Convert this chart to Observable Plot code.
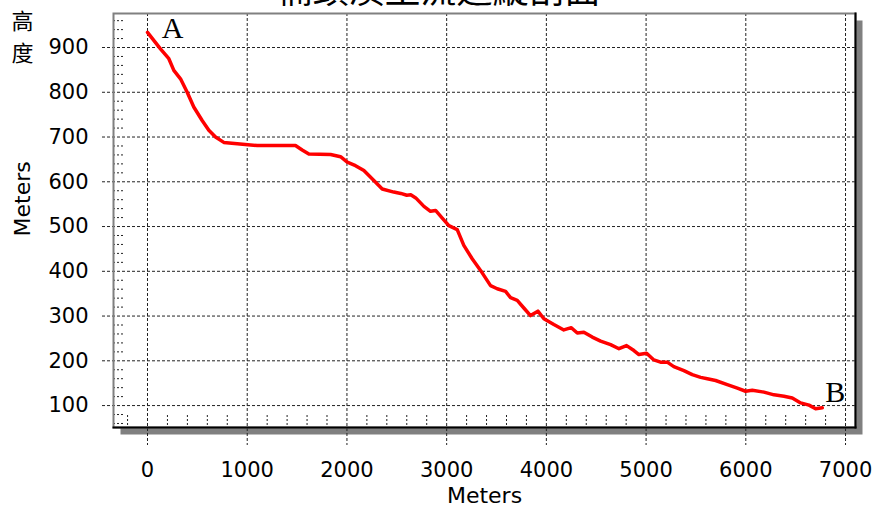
<!DOCTYPE html>
<html><head><meta charset="utf-8">
<script src="https://cdn.jsdelivr.net/npm/d3@7"></script>
<script src="https://cdn.jsdelivr.net/npm/@observablehq/plot@0.6"></script>
<style>body{margin:0;background:#fff}</style>
</head><body><div id="chart"></div>
<script>
const distance = [0,130,214,264,331,398,464,548,615,682,765,900,1100,1484,1551,1618,1836,1936,2003,2086,2170,2270,2354,2470,2540,2600,2640,2690,2772,2838,2889,2956,3022,3106,3172,3256,3340,3440,3507,3591,3641,3708,3774,3841,3915,3975,4075,4175,4250,4310,4376,4460,4544,4644,4728,4804,4878,4928,5005,5078,5145,5212,5278,5379,5463,5547,5614,5697,5814,5915,5998,6065,6182,6283,6383,6466,6550,6634,6700,6767];
const elevation = [934,897,875,849,830,800,767,737,715,700,688,685,681,681,671,662,661,656,644,636,625,603,584,577,574,570,571,564,545,534,536,519,502,493,458,428,402,368,361,355,341,335,318,301,311,294,281,269,274,262,264,253,244,236,227,234,223,214,217,202,197,197,187,178,169,163,160,156,147,139,132,134,130,124,121,117,106,101,93,95];
const xTicks = [0,1000,2000,3000,4000,5000,6000,7000];
const yTicks = [100,200,300,400,500,600,700,800,900];
const xMinor = d3.range(-200, 7000, 200).filter(v => v % 1000 !== 0);
const yMinor = d3.range(60, 976, 20).filter(v => v % 100 !== 0);
const title = "楠頭溪主流道縱剖面";
const axisLabel = "Meters";
const yName = "高\n度";
const startLabel = "A";
const endLabel = "B";

const profile = distance.map((d, i) => ({distance: d, elevation: elevation[i]}));
const first = profile[0], last = profile[profile.length - 1];

const innerW = 877 - 113 - 22, innerH = 513 - 13 - 86;

const chart = Plot.plot({
  width: 877, height: 513,
  marginLeft: 113, marginRight: 22, marginTop: 13, marginBottom: 86,
  x: {domain: [-341, 7100]},
  y: {domain: [51, 976]},
  style: {fontFamily: "'DejaVu Sans', Verdana, sans-serif", background: "white", overflow: "visible"},
  marks: [
    Plot.frame({fill: "#808080", stroke: null, dx: 7, dy: 7}),
    Plot.frame({fill: "white", stroke: null}),
    Plot.tickY(yMinor, {y: d => d, insetRight: innerW - 12, stroke: "#222", strokeDasharray: "2,2"}),
    Plot.tickX(xMinor, {x: d => d, insetTop: innerH - 12, stroke: "#222", strokeDasharray: "2,2"}),
    Plot.tickY(yTicks, {y: d => d, insetLeft: -11, stroke: "#222", strokeDasharray: "3,2"}),
    Plot.tickX(xTicks, {x: d => d, insetBottom: -18, stroke: "#222", strokeDasharray: "3,2"}),
    Plot.frame({stroke: "#808080", strokeWidth: 2}),
    Plot.frame({anchor: "right", stroke: "black", strokeWidth: 2}),
    Plot.frame({anchor: "bottom", stroke: "black", strokeWidth: 2}),
    Plot.line(profile, {x: "distance", y: "elevation", stroke: "#ff0000", strokeWidth: 3.5, strokeLinejoin: "round"}),
    Plot.axisY(yTicks, {tickSize: 0, tickPadding: 25, fontSize: 21, label: null, fill: "black", tickFormat: d => String(d)}),
    Plot.axisX(xTicks, {tickSize: 0, tickPadding: 35, fontSize: 21, label: null, fill: "black", tickFormat: d => String(d)}),
    Plot.text([axisLabel], {frameAnchor: "bottom", dy: 75, fontSize: 22, fill: "black"}),
    Plot.text([axisLabel], {frameAnchor: "left", dx: -91, dy: 16, rotate: -90, fontSize: 22, fill: "black"}),
    Plot.text([yName], {frameAnchor: "top-left", dx: -91, dy: 21, lineAnchor: "middle", textAnchor: "middle", lineHeight: 1.45, fontSize: 22, fontFamily: "'Noto Sans CJK TC', sans-serif", fill: "black"}),
    Plot.text([title], {frameAnchor: "top", dx: -46, dy: -22, lineAnchor: "middle", fontSize: 36, fontFamily: "'Noto Sans CJK TC', sans-serif", fill: "black"}),
    Plot.text([first], {x: "distance", y: "elevation", text: () => startLabel, dx: 25, dy: -4, fontSize: 30, fontFamily: "'Liberation Serif', serif", fill: "black"}),
    Plot.text([last], {x: "distance", y: "elevation", text: () => endLabel, dx: 13, dy: -15, fontSize: 30, fontFamily: "'Liberation Serif', serif", fill: "black"})
  ]
});
document.getElementById("chart").append(chart);
</script>
</body></html>
